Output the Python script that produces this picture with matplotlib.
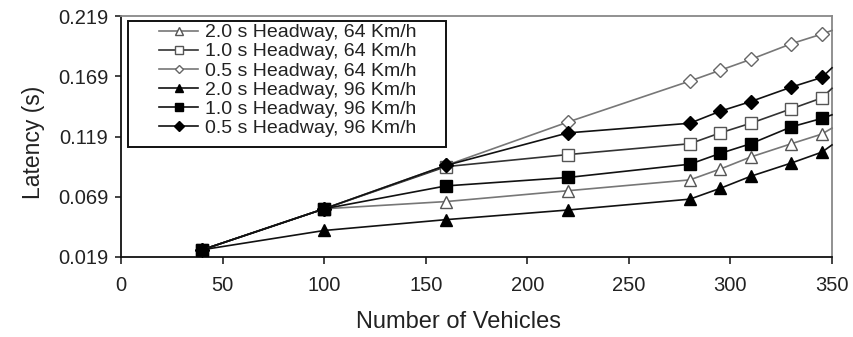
import matplotlib
matplotlib.use("Agg")
import matplotlib.pyplot as plt
from matplotlib.patches import Rectangle

plt.rcParams['font.family'] = ['Liberation Sans', 'DejaVu Sans']

# Number of vehicles (last value only extends the line to the axis edge)
vehicles = [40, 100, 160, 220, 280, 295, 310, 330, 345, 350]

# Latency (s) per configuration
lat_20_64 = [0.025, 0.059, 0.065, 0.074, 0.083, 0.092, 0.102, 0.113, 0.121, 0.126]
lat_10_64 = [0.025, 0.059, 0.094, 0.104, 0.113, 0.122, 0.130, 0.142, 0.151, 0.159]
lat_05_64 = [0.025, 0.059, 0.095, 0.131, 0.165, 0.174, 0.183, 0.196, 0.204, 0.207]
lat_20_96 = [0.025, 0.041, 0.050, 0.058, 0.067, 0.076, 0.086, 0.097, 0.106, 0.112]
lat_10_96 = [0.025, 0.059, 0.078, 0.085, 0.096, 0.105, 0.113, 0.127, 0.134, 0.137]
lat_05_96 = [0.025, 0.059, 0.095, 0.122, 0.130, 0.140, 0.148, 0.160, 0.168, 0.176]

labels = ["2.0 s Headway, 64 Km/h", "1.0 s Headway, 64 Km/h", "0.5 s Headway, 64 Km/h",
          "2.0 s Headway, 96 Km/h", "1.0 s Headway, 96 Km/h", "0.5 s Headway, 96 Km/h"]
series = [lat_20_64, lat_10_64, lat_05_64, lat_20_96, lat_10_96, lat_05_96]

xticks = [0, 50, 100, 150, 200, 250, 300, 350]
yticks = [0.019, 0.069, 0.119, 0.169, 0.219]

styles = [
    dict(marker='^', ms=9, mfc='white', mec='#555555', color='#777777'),
    dict(marker='s', ms=8, mfc='white', mec='#555555', color='#333333'),
    dict(marker='D', ms=7, mfc='white', mec='#666666', color='#777777'),
    dict(marker='^', ms=9, mfc='black', mec='black', color='#111111'),
    dict(marker='s', ms=8, mfc='black', mec='black', color='#111111'),
    dict(marker='D', ms=7.5, mfc='black', mec='black', color='#111111'),
]

fig = plt.figure(figsize=(8.54, 3.37), dpi=100)
ax = fig.add_axes([121 / 854, 1 - 257 / 337, 711 / 854, 241 / 337])

handles = []
for vals, lab, st in zip(series, labels, styles):
    h, = ax.plot(vehicles, vals, lw=1.2, mew=1.0, markevery=slice(0, len(vehicles) - 1),
                 label=lab, clip_on=False, zorder=3, **st)
    handles.append(h)

ax.set_xlim(0, 350)
ax.set_ylim(0.019, 0.219)
ax.set_xticks(xticks)
ax.set_xticklabels([str(v) for v in xticks])
ax.set_yticks(yticks)
ax.set_yticklabels([f"{v:.3f}" for v in yticks])

tick_color = '#222222'
ax.tick_params(axis='x', direction='out', length=5, width=1.2, pad=9,
               labelsize=14.5, colors=tick_color)
ax.tick_params(axis='y', direction='out', length=4, width=1.2, pad=5,
               labelsize=14.5, colors=tick_color)

for side in ('left', 'bottom'):
    ax.spines[side].set_color('#111111')
    ax.spines[side].set_linewidth(1.3)
for side in ('top', 'right'):
    ax.spines[side].set_color('#888888')
    ax.spines[side].set_linewidth(1.3)

ax.set_xlabel("Number of Vehicles", fontsize=17, color=tick_color)
ax.xaxis.set_label_coords(0.475, -0.225)
ax.set_ylabel("Latency (s)", fontsize=16.5, color=tick_color)
ax.yaxis.set_label_coords(-0.107, 0.477)

leg = ax.legend(handles=handles, loc='upper left', bbox_to_anchor=(0.054, 0.968),
                frameon=False, fontsize=14, labelspacing=0.08, handlelength=2.0,
                handletextpad=0.35, borderpad=0.0, borderaxespad=0.0, markerscale=0.65)
for t in leg.get_texts():
    t.set_color(tick_color)

# Legend frame
ax.add_patch(Rectangle((0.0098, 0.456), 0.447, 0.523, transform=ax.transAxes,
                       fill=False, edgecolor='#111111', lw=1.4, zorder=5))

fig.savefig("out.png", dpi=100)
